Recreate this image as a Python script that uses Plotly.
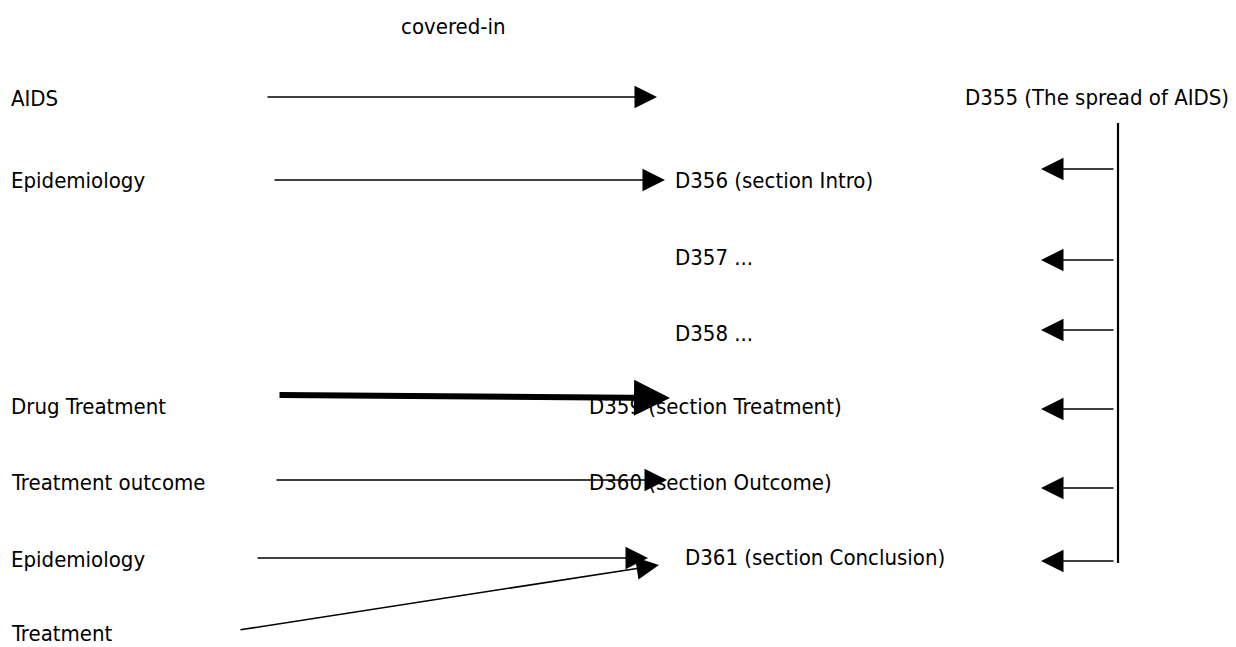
import plotly.graph_objects as go

W, H = 1236, 647
PAGE_MARGIN = 8  # default browser body margin
FONT = "DejaVu Sans Condensed, Liberation Sans, Arial, sans-serif"
FS = 22

# Header
header_text = "covered-in"
header_pos = (453, 26)

# Left-hand concept labels
left_labels = ["AIDS", "Epidemiology", "Drug Treatment", "Treatment outcome", "Epidemiology", "Treatment"]
left_x = 9
left_y = [98, 180, 406, 482, 559, 633]

# Document labels
doc_labels = ["D355 (The spread of AIDS)", "D356 (section Intro)", "D357 ...", "D358 ...",
              "D359 (section Treatment)", "D360 (section Outcome)", "D361 (section Conclusion)"]
doc_x = [1231, 673, 673, 673, 587, 587, 683]
doc_anchor = ["right", "left", "left", "left", "left", "left", "left"]
doc_y = [97, 180, 257, 333, 406, 482, 557]

# "covered-in" arrows: tail (x0,y0) -> head (x1,y1), line width
cov_x0 = [266, 273, 278, 275, 256, 239]
cov_y0 = [97, 180, 395, 480, 558, 630]
cov_x1 = [657, 665, 670, 667, 648, 659]
cov_y1 = [97, 180, 398, 480, 558, 565]
cov_w = [1.5, 1.5, 6, 1.5, 1.5, 1.5]
cov_size = [3.0, 3.0, 1.2, 3.0, 3.0, 3.0]

# Part-of arrows from D355 backbone
part_x0 = 1115
part_x1 = 1041
part_y = [169, 260, 330, 409, 488, 561]
spine_x = 1118
spine_y = (123, 563)

fig = go.Figure()

annotations = []
annotations.append(dict(x=header_pos[0], y=header_pos[1], text=header_text, showarrow=False,
                        xanchor="center", yanchor="middle", font=dict(family=FONT, size=FS, color="black")))
for t, y in zip(left_labels, left_y):
    annotations.append(dict(x=left_x, y=y, text=t, showarrow=False, xanchor="left", yanchor="middle",
                            font=dict(family=FONT, size=FS, color="black")))
for t, x, a, y in zip(doc_labels, doc_x, doc_anchor, doc_y):
    annotations.append(dict(x=x, y=y, text=t, showarrow=False, xanchor=a, yanchor="middle",
                            font=dict(family=FONT, size=FS, color="black")))
for x0, y0, x1, y1, w, s in zip(cov_x0, cov_y0, cov_x1, cov_y1, cov_w, cov_size):
    annotations.append(dict(x=x1, y=y1, ax=x0, ay=y0, xref="x", yref="y", axref="x", ayref="y",
                            text="", showarrow=True, arrowhead=2, arrowsize=s, arrowwidth=w,
                            arrowcolor="black", standoff=0, startstandoff=0))
for y in part_y:
    annotations.append(dict(x=part_x1, y=y, ax=part_x0, ay=y, xref="x", yref="y", axref="x", ayref="y",
                            text="", showarrow=True, arrowhead=2, arrowsize=3.0, arrowwidth=1.5,
                            arrowcolor="black", standoff=0, startstandoff=0))

fig.add_trace(go.Scatter(x=[spine_x, spine_x], y=list(spine_y), mode="lines",
                         line=dict(color="black", width=2.2), hoverinfo="skip", showlegend=False))

fig.update_layout(
    width=W - PAGE_MARGIN, height=H - PAGE_MARGIN, margin=dict(l=0, r=0, t=0, b=0),
    paper_bgcolor="white", plot_bgcolor="white",
    xaxis=dict(range=[PAGE_MARGIN, W], visible=False, fixedrange=True),
    yaxis=dict(range=[H, PAGE_MARGIN], visible=False, fixedrange=True),
    annotations=annotations, showlegend=False,
)

fig.write_html("out.html", config={"displayModeBar": False})
